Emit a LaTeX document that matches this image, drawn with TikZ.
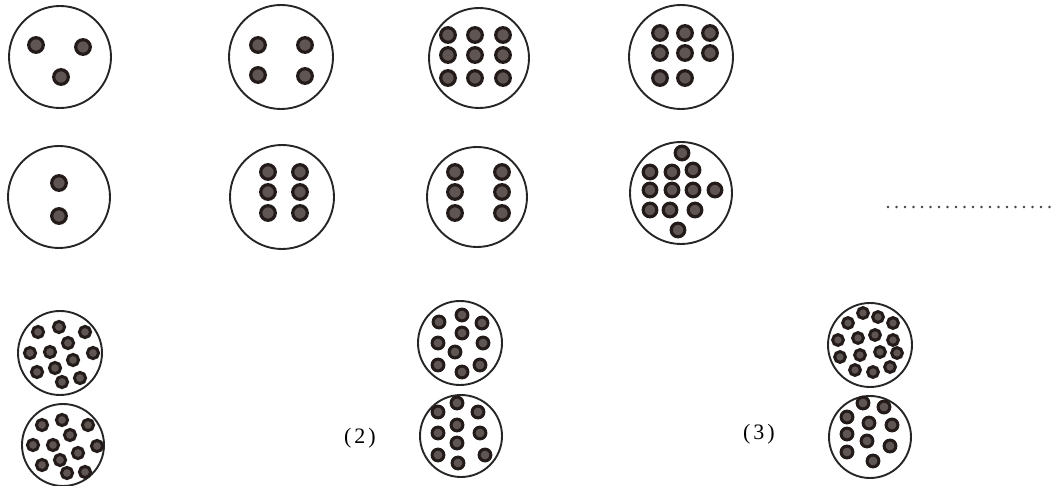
\documentclass[tikz,border=0pt]{standalone}
\usepackage{fontspec}
\setmainfont{Liberation Serif}
\usepackage{tikz}
\usetikzlibrary{positioning}
\definecolor{beadrim}{HTML}{231B19}
\definecolor{beadcore}{HTML}{5F5553}
\tikzset{
  ring/.style={draw=black!85,line width=1.9pt},
  bead/.style={draw=beadrim,fill=beadcore,line width=3.2pt},
  smallbead/.style={draw=beadrim,fill=beadcore,line width=3pt},
  tag/.style={font=\fontsize{22}{26}\selectfont,inner sep=0pt},
}
\begin{document}
\begin{tikzpicture}[x=1pt,y=-1pt]
  \useasboundingbox (0,0) rectangle (1053,486); % 画像全体の枠
  % 1段目
  \draw[ring] (60,57) circle (51); % 3個の円
  \foreach \x/\y in {36/45,83/47,61/77} \draw[bead] (\x,\y) circle (7.3);
  \draw[ring] (281,57) circle (52); % 4個の円
  \foreach \x/\y in {258/45,305/45,258/75,305/76} \draw[bead] (\x,\y) circle (7.3);
  \draw[ring] (479,58) circle (50); % 9個の円
  \foreach \x in {448,475,503} \foreach \y in {35,55,78} \draw[bead] (\x,\y) circle (7.3);
  \draw[ring] (681,57) circle (52); % 8個の円
  \foreach \x/\y in {660/33,685/33,710/33,660/53,685/53,710/53,660/78,685/78}
    \draw[bead] (\x,\y) circle (7.3);
  % 2段目
  \draw[ring] (59,197) circle (51); % 2個の円
  \foreach \y in {183,216} \draw[bead] (59,\y) circle (7.3);
  \draw[ring] (282,197) circle (52); % 6個の円（間隔せまい）
  \foreach \x in {268,300} \foreach \y in {172,192,213} \draw[bead] (\x,\y) circle (7.3);
  \draw[ring] (477,197) circle (50); % 6個の円（間隔ひろい）
  \foreach \x in {455,502} \foreach \y in {172,192,213} \draw[bead] (\x,\y) circle (7.3);
  \draw[ring] (681,193) circle (51); % 13個の円。上下右の粒が縁にかかる
  \foreach \x/\y in {682/153,650/172,672/172,693/170,650/190,672/190,693/190,
    715/190,650/210,670/210,695/210,678/230}
    \draw[bead] (\x,\y) circle (6.8);
  \draw[gray!50!black,line width=2.8pt,line cap=round,dash pattern=on 0pt off 8.5pt]
    (888,207) -- (1050,207); % 右端の点線
  % 3・4段目
  \draw[ring] (60,353) circle (42); % 左上
  \foreach \x/\y in {38/332,59/327,85/332,68/343,30/353,50/352,93/353,73/360,
    55/368,37/372,80/378,62/382}
    \draw[smallbead] (\x,\y) circle (5.6);
  \draw[ring] (63,445) circle (41); % 左下
  \foreach \x/\y in {42/425,62/420,88/425,70/435,33/445,53/445,97/446,78/453,
    60/460,42/465,85/472,67/473}
    \draw[smallbead] (\x,\y) circle (5.6);
  \draw[ring] (460,343) circle (42); % (2) 上
  \foreach \x/\y in {439/322,462/315,482/323,462/333,438/343,483/343,455/352,
    438/365,462/372,480/365}
    \draw[smallbead] (\x,\y) circle (5.9);
  \draw[ring] (461,436) circle (41); % (2) 下
  \foreach \x/\y in {457/403,438/412,478/412,457/425,438/433,480/433,457/443,
    438/455,485/455,458/463}
    \draw[smallbead] (\x,\y) circle (5.9);
  \draw[ring] (870,345) circle (42); % (3) 上
  \foreach \x/\y in {863/313,878/317,893/323,848/323,838/340,858/338,875/335,
    893/340,840/357,860/355,880/352,897/353,855/370,873/372,890/367}
    \draw[smallbead] (\x,\y) circle (5.4);
  \draw[ring] (870,437) circle (41); % (3) 下
  \foreach \x/\y in {863/403,884/407,847/417,869/423,892/425,847/434,867/441,
    847/452,890/446,873/461}
    \draw[smallbead] (\x,\y) circle (5.9);
  \node[tag] (lbltwo) at (360,438) {(\kern3pt2\kern3pt)}; % 小問(2)の番号
  \node[tag] (lblthree) at (759,434) {(\kern3pt3\kern3pt)}; % 小問(3)の番号
\end{tikzpicture}
\end{document}
